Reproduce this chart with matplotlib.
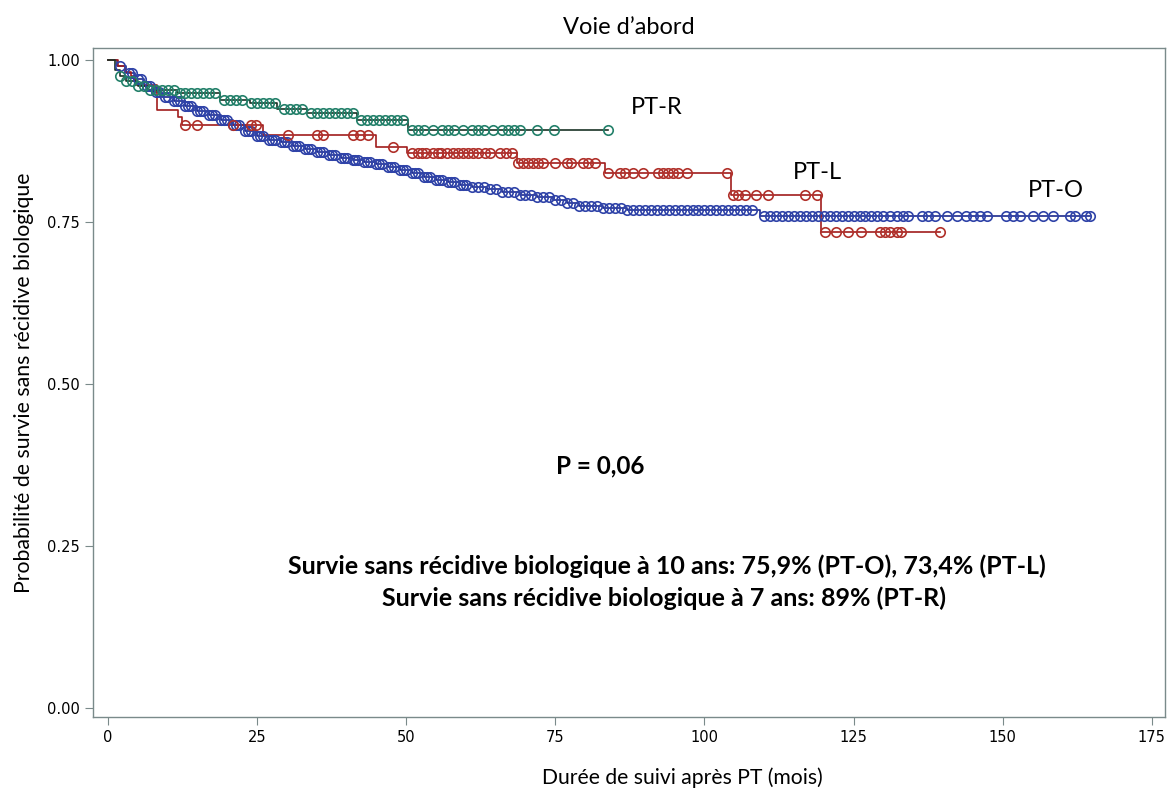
import matplotlib.pyplot as plt
import numpy as np

# Kaplan-Meier estimates per surgical approach (months, survival after each event)
pto_times = [1.5, 3, 4.5, 6, 7.5, 9, 11, 13, 15, 17, 19, 21, 23, 25, 27, 29, 31, 33, 35,
             37, 39, 41, 43, 45, 47, 49, 51, 53, 55, 57, 59, 61, 63.5, 66, 69, 72, 74.6,
             77, 79, 83, 87, 109.3]
pto_surv = [0.99, 0.98, 0.97, 0.96, 0.95, 0.943, 0.936, 0.929, 0.922, 0.915, 0.907, 0.899,
            0.89, 0.882, 0.877, 0.873, 0.868, 0.863, 0.858, 0.853, 0.849, 0.846, 0.842,
            0.839, 0.835, 0.831, 0.826, 0.82, 0.815, 0.811, 0.807, 0.804, 0.801, 0.797,
            0.792, 0.788, 0.784, 0.779, 0.775, 0.772, 0.768, 0.759]
pto_censor = [2, 3.5, 4, 5, 5.5, 6.5, 7, 8, 8.5, 9.5, 10, 11, 11.5, 12, 13, 13.5, 14, 15,
              15.5, 16, 17, 17.5, 18, 19, 19.5, 20, 21, 21.5, 22, 23, 23.5, 24, 25, 25.5,
              26, 27, 27.5, 28, 29, 29.5, 30, 31, 31.5, 32, 33, 33.5, 34, 35, 35.5, 36,
              37, 37.5, 38, 39, 39.5, 40, 41, 41.5, 42, 43, 43.5, 44, 45, 45.5, 46, 47,
              47.5, 48, 49, 49.5, 50, 51, 51.5, 52, 53, 53.5, 54, 55, 55.5, 56, 57, 57.5,
              58, 59, 59.5, 60, 61, 62, 63, 64, 65, 66, 67, 68, 69, 70, 71, 72, 73, 74,
              75, 76, 77, 78, 79, 80, 81, 82, 83, 84, 85, 86, 87, 88, 89, 90, 91, 92, 93,
              94, 95, 96, 97, 98, 99, 100, 101, 102, 103, 104, 105, 106, 107, 108, 110,
              111, 112, 113, 114, 115, 116, 117, 118, 119, 120, 121, 122, 123, 124, 125,
              126, 127, 128, 129, 130, 131.1, 132.2, 133.3, 134.1, 136.4, 137.5, 138.6,
              140.6, 142.3, 143.9, 145, 146.2, 147.3, 150.6, 151.7, 152.9, 155.1, 156.8,
              158.4, 161.2, 162.1, 164.0, 164.6]

ptl_times = [1.7, 2.8, 3.8, 4.5, 8.2, 11.7, 12.4, 26.0, 45.0, 50.1, 68.5, 83.3, 104.5, 119.6]
ptl_surv = [0.99, 0.982, 0.975, 0.962, 0.923, 0.912, 0.900, 0.884, 0.866, 0.857, 0.841,
            0.825, 0.791, 0.734]
ptl_censor = [12.9, 14.9, 21, 24, 24.9, 30.2, 35, 36, 41, 42.2, 43.6, 47.8, 51, 52,
              52.6, 53.4, 54.5, 55.4, 55.9, 56.8, 57.9, 58.7, 59.5, 60.4, 61.2, 62.1,
              63.2, 64.0, 65.7, 66.7, 67.7, 68.8, 69.6, 70.4, 71.3, 72.1, 73.0, 74.9,
              76.9, 77.7, 79.7, 80.5, 81.6, 83.9, 85.8, 86.7, 88.1, 89.7, 92.2, 93.1,
              93.9, 94.8, 95.6, 97.0, 103.7, 104.8, 105.7, 106.8, 108.7, 110.7, 116.8,
              118.8, 120.2, 122.1, 124.1, 126.3, 129.4, 130.2, 131.1, 132.2, 133.0, 139.5]

ptr_times = [1.2, 2.0, 3.0, 5.0, 6.5, 11.5, 18.8, 23.8, 28.3, 33.3, 41.7, 50.3]
ptr_surv = [0.985, 0.975, 0.968, 0.96, 0.954, 0.949, 0.939, 0.933, 0.925, 0.918, 0.907,
            0.892]
ptr_censor = [2, 3, 4, 5, 6, 7, 8, 9, 10, 11, 12, 13, 14, 15, 16, 17, 18, 19.5, 20.5,
              21.5, 22.5, 24, 25, 26, 27, 28, 29.5, 30.5, 31.5, 32.5, 34, 35, 36, 37, 38,
              39, 40, 41, 42.5, 43.5, 44.5, 45.5, 46.5, 47.5, 48.5, 49.5, 51, 52, 53,
              54.5, 56, 57, 58, 59.5, 61, 62, 63, 64.5, 66, 67, 68, 69, 72, 74.7, 83.8]


def km_step(ax, times, surv, censor, end, line_col, mark_col):
    t = np.concatenate([[0], times, [end]])
    s = np.concatenate([[1.0], surv, [surv[-1]]])
    ax.step(t, s, where='post', color=line_col, lw=1.2, zorder=2)
    # survival level at each censoring time
    idx = np.searchsorted(times, censor, side='right')
    cs = np.concatenate([[1.0], surv])[idx]
    ax.plot(censor, cs, 'o', mfc='none', mec=mark_col, ms=6.8, mew=1.2, zorder=3)


fig = plt.figure(figsize=(11.76, 7.95), dpi=100)
ax = fig.add_axes([0.0791, 0.0981, 0.9115, 0.8415])

km_step(ax, pto_times, pto_surv, pto_censor, 164.6, '#1c2a8c', '#2f43a8')
km_step(ax, ptl_times, ptl_surv, ptl_censor, 139.5, '#a11d1d', '#b0302a')
km_step(ax, ptr_times, ptr_surv, ptr_censor, 83.8, '#1a3326', '#23806a')

ax.set_xlim(-2.5, 177.2)
ax.set_ylim(-0.014, 1.0185)
ax.set_xticks([0, 25, 50, 75, 100, 125, 150, 175])
ax.set_yticks([0, 0.25, 0.5, 0.75, 1.0])
ax.set_yticklabels(['0.00', '0.25', '0.50', '0.75', '1.00'])
for sp in ax.spines.values():
    sp.set_color('#7a8a8a')
    sp.set_linewidth(1.0)
ax.tick_params(colors='#7a8a8a', labelcolor='black', labelsize=10.5, length=6)

lab = dict(family=['Lato', 'DejaVu Sans'])
ax.set_title("Voie d\u2019abord", fontsize=17, pad=10, **lab)
fig.text(0.580, 0.0214, 'Durée de suivi après PT (mois)', fontsize=15.2,
         ha='center', va='center', **lab)
ax.set_ylabel('Probabilité de survie sans récidive biologique', fontsize=15.3,
              labelpad=9, **lab)

ax.text(92, 0.926, 'PT-R', fontsize=17, ha='center', va='center', **lab)
ax.text(119, 0.827, 'PT-L', fontsize=17, ha='center', va='center', **lab)
ax.text(158.9, 0.799, 'PT-O', fontsize=17, ha='center', va='center', **lab)
ax.text(82.5, 0.373, 'P = 0,06', fontsize=17.5, fontweight='bold', ha='center',
        va='center', **lab)
ax.text(93.7, 0.219, 'Survie sans récidive biologique à 10 ans: 75,9% (PT-O), 73,4% (PT-L)',
        fontsize=18, fontweight='bold', ha='center', va='center', **lab)
ax.text(93.2, 0.170, 'Survie sans récidive biologique à 7 ans: 89% (PT-R)',
        fontsize=18, fontweight='bold', ha='center', va='center', **lab)

plt.savefig('out.png', dpi=100)
